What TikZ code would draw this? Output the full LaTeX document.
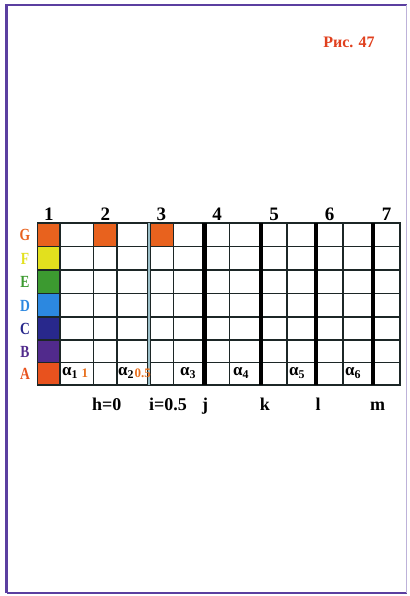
\documentclass[tikz,border=0pt]{standalone}
\usepackage{fontspec}
\setmainfont{Liberation Serif}
\usepackage{tikz}
\usetikzlibrary{positioning}

\begin{document}
\begin{tikzpicture}[x=1pt, y=-1pt,
  gridline/.style={draw=gridc, line width=1.4pt},
  heavyline/.style={draw=black, line width=4.6pt},
  colnum/.style={font=\bfseries\fontsize{19}{19}\selectfont, anchor=south, inner sep=0pt},
  rowlet/.style={font=\bfseries\fontsize{17}{17}\selectfont, xscale=0.8, inner sep=0pt},
  alab/.style={font=\bfseries\fontsize{17}{17}\selectfont, anchor=west, inner sep=0pt},
  aval/.style={font=\bfseries\fontsize{13}{13}\selectfont, text=valc, inner sep=0pt},
  linelab/.style={font=\bfseries\fontsize{18}{18}\selectfont, anchor=base, inner sep=0pt}]
% --- GRADE COM CORES, LINHAS GROSSAS E ROTULOS ---
\definecolor{framec}{HTML}{5B3FA0}
\definecolor{gridc}{HTML}{1C2626}
\definecolor{ilight}{HTML}{9CBFC8}
\definecolor{valc}{HTML}{E8701E}
\definecolor{titlec}{HTML}{E0401E}
\definecolor{colG}{HTML}{E8621E}
\definecolor{colF}{HTML}{E2E01E}
\definecolor{colE}{HTML}{3C9A30}
\definecolor{colD}{HTML}{2C88E0}
\definecolor{colC}{HTML}{28288C}
\definecolor{colB}{HTML}{512A8C}
\definecolor{colA}{HTML}{E8521E}

\useasboundingbox (0,0) rectangle (409,596);

% LAYER 1: Moldura
\draw[draw=framec, line width=2.8pt] (6.5,593) -- (6.5,5) -- (407,5);
\draw[draw=framec, line width=1.8pt] (6.5,593) -- (407,593);
\draw[draw=framec!40, line width=1pt] (406.5,5) -- (406.5,593);
\node[font=\bfseries\fontsize{16}{16}\selectfont, text=titlec, anchor=base] (fig) at (349,48) {Рис. 47};

% LAYER 2: Celulas coloridas
\fill[colG] (37.5,223) rectangle (60,246.5);
\fill[colF] (37.5,246.5) rectangle (60,270);
\fill[colE] (37.5,270) rectangle (60,293.5);
\fill[colD] (37.5,293.5) rectangle (60,317);
\fill[colC] (37.5,317) rectangle (60,340);
\fill[colB] (37.5,340) rectangle (60,362.5);
\fill[colA] (37.5,362.5) rectangle (60,385);
\fill[colG] (93.5,223) rectangle (117,246.5);
\fill[colG] (149,223) rectangle (173.5,246.5);

% LAYER 3: Linhas da grade
\draw[gridline] (37.5,246.5) -- (400,246.5) (37.5,270) -- (400,270) (37.5,293.5) -- (400,293.5)
  (37.5,317) -- (400,317) (37.5,340) -- (400,340) (37.5,362.5) -- (400,362.5);
\draw[gridline] (60,223) -- (60,385) (93.5,223) -- (93.5,385) (117,223) -- (117,385)
  (173.5,223) -- (173.5,385) (229.5,223) -- (229.5,385) (287,223) -- (287,385) (343,223) -- (343,385);
\draw[gridline, line width=1.7pt] (37.5,223) rectangle (400,385);
\draw[draw=gridc, double=ilight, double distance=1.6pt, line width=1.2pt] (149,223) -- (149,385);
\draw[heavyline] (204.5,223) -- (204.5,385) (261,223) -- (261,385) (316,223) -- (316,385) (373,223) -- (373,385);

% LAYER 4: Numeros das colunas
\node[colnum] (n1) at (48.75,221) {1};
\node[colnum] (n2) at (105.25,221) {2};
\node[colnum] (n3) at (161.25,221) {3};
\node[colnum] (n4) at (217,221) {4};
\node[colnum] (n5) at (274,221) {5};
\node[colnum] (n6) at (329.5,221) {6};
\node[colnum] (n7) at (386.5,221) {7};

% LAYER 5: Letras das linhas
\node[rowlet, text=colG] (rowG) at (25,235) {G};
\node[rowlet, text=colF] (rowF) at (25,258.5) {F};
\node[rowlet, text=colE] (rowE) at (25,282) {E};
\node[rowlet, text=colD] (rowD) at (25,305.5) {D};
\node[rowlet, text=colC] (rowC) at (25,328.5) {C};
\node[rowlet, text=colB] (rowB) at (25,351.5) {B};
\node[rowlet, text=colA] (rowA) at (25,374) {A};

% LAYER 6: Alfas na linha A
\node[alab] (a1) at (62,373) {α\textsubscript{1}};
\node[aval, right=3pt of a1] (v1) {1};
\node[alab] (a2) at (118,373) {α\textsubscript{2}};
\node[aval, right=0pt of a2] (v2) {0.5};
\node[alab] (a3) at (180,373) {α\textsubscript{3}};
\node[alab] (a4) at (233,373) {α\textsubscript{4}};
\node[alab] (a5) at (289,373) {α\textsubscript{5}};
\node[alab] (a6) at (345,373) {α\textsubscript{6}};

% LAYER 7: Rotulos das linhas verticais
\node[linelab, anchor=base west] (labh) at (92,410) {h=0};
\node[linelab, anchor=base west] (labi) at (149,410) {i=0.5};
\node[linelab] (labj) at (205,410) {j};
\node[linelab] (labk) at (265,410) {k};
\node[linelab] (labl) at (318,410) {l};
\node[linelab] (labm) at (377.5,410) {m};
\end{tikzpicture}
\end{document}
